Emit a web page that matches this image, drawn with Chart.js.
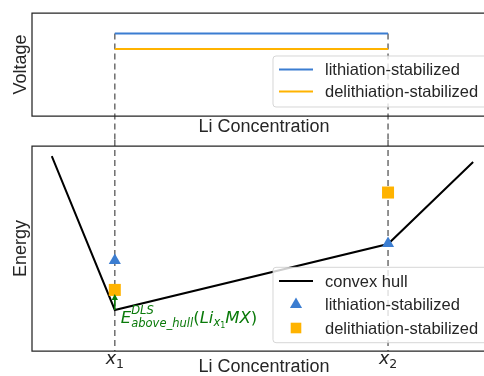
<!DOCTYPE html>
<html>
<head>
<meta charset="utf-8">
<script src="https://cdn.jsdelivr.net/npm/chart.js@4"></script>
<style>
  html, body { margin: 0; padding: 0; background: #fff; width: 484px; height: 376px; overflow: hidden; }
  .panel { position: absolute; left: 0; width: 500px; }
  #top { top: 0; height: 140px; }
  #bottom { top: 140px; height: 236px; }
</style>
</head>
<body>
<div class="panel" id="top"><canvas id="voltageChart"></canvas></div>
<div class="panel" id="bottom"><canvas id="energyChart"></canvas></div>
<script>
// Li concentration of the two compositions (x1, x2), arbitrary units 0..1
const xMarks = [0.180, 0.774];
const xTickLabels = ['x_1', 'x_2'];

// top panel: voltage plateaus between x1 and x2
const voltX = [0.180, 0.774];
const voltLith = [0.80, 0.80];
const voltDelith = [0.65, 0.65];

// bottom panel: energies
const hullX = [0.043, 0.180, 0.774, 0.959];
const hullY = [0.951, 0.200, 0.522, 0.922];
const lithX = [0.180, 0.774];
const lithY = [0.442, 0.525];
const delithX = [0.180, 0.774];
const delithY = [0.298, 0.773];

// E_above_hull arrow at x1 (from hull up to the delithiated point)
const arrowX = 0.180;
const arrowFrom = 0.200;
const arrowTo = 0.278;

const BLUE = '#3b7dd1';
const ORANGE = '#ffb300';
const GREEN = '#0a7a0a';
const INK = '#262626';
const LABEL_FONT = '18px "Liberation Sans", Arial, sans-serif';
const LEGEND_FONT = '16.5px "Liberation Sans", Arial, sans-serif';

const pts = (xs, ys) => xs.map((x, i) => ({x: x, y: ys[i]}));

function spines(chart) {
  const {ctx, chartArea: a} = chart;
  ctx.save();
  ctx.strokeStyle = INK;
  ctx.lineWidth = 1.25;
  ctx.beginPath();
  ctx.moveTo(a.right + 2, a.top); ctx.lineTo(a.left, a.top);
  ctx.lineTo(a.left, a.bottom); ctx.lineTo(a.right + 2, a.bottom);
  ctx.stroke();
  ctx.restore();
}

function guides(chart, y0, y1) {
  const {ctx, scales: {x}} = chart;
  ctx.save();
  ctx.strokeStyle = '#6e6e6e';
  ctx.lineWidth = 1.5;
  ctx.setLineDash([6, 4]);
  xMarks.forEach(v => {
    const px = x.getPixelForValue(v);
    ctx.beginPath(); ctx.moveTo(px, y0); ctx.lineTo(px, y1); ctx.stroke();
  });
  ctx.restore();
}

function axisTitles(chart, yTitle, xBaseline) {
  const {ctx, chartArea: a} = chart;
  ctx.save();
  ctx.fillStyle = INK;
  ctx.font = LABEL_FONT;
  ctx.textAlign = 'center';
  ctx.textBaseline = 'alphabetic';
  ctx.fillText('Li Concentration', (a.left + a.right) / 2 + 2, xBaseline);
  ctx.translate(25.5, (a.top + a.bottom) / 2);
  ctx.rotate(-Math.PI / 2);
  ctx.fillText(yTitle, 0, 0);
  ctx.restore();
}

function legendBox(chart, bx, by, bh, rows) {
  const {ctx} = chart;
  const bw = 260, r = 3;
  ctx.save();
  ctx.beginPath();
  ctx.moveTo(bx + r, by);
  ctx.lineTo(bx + bw, by);
  ctx.lineTo(bx + bw, by + bh);
  ctx.lineTo(bx + r, by + bh);
  ctx.arcTo(bx, by + bh, bx, by + bh - r, r);
  ctx.lineTo(bx, by + r);
  ctx.arcTo(bx, by, bx + r, by, r);
  ctx.closePath();
  ctx.fillStyle = 'rgba(255,255,255,0.8)';
  ctx.fill();
  ctx.strokeStyle = 'rgba(204,204,204,0.8)';
  ctx.lineWidth = 1;
  ctx.stroke();
  rows.forEach(row => {
    const ds = row.ds;
    if (ds.showLine === false) {
      ctx.fillStyle = ds.backgroundColor;
      ctx.strokeStyle = ds.backgroundColor;
      Chart.helpers.drawPoint(ctx, {pointStyle: ds.pointStyle, radius: row.r, borderWidth: 0, rotation: 0}, bx + 23, row.y);
    } else {
      ctx.strokeStyle = ds.borderColor;
      ctx.lineWidth = ds.borderWidth;
      ctx.beginPath(); ctx.moveTo(bx + 6, row.y); ctx.lineTo(bx + 40, row.y); ctx.stroke();
    }
    ctx.fillStyle = INK;
    ctx.font = LEGEND_FONT;
    ctx.textAlign = 'left';
    ctx.textBaseline = 'middle';
    ctx.fillText(ds.label, bx + 52, row.y + 1);
  });
  ctx.restore();
}

function mathRuns(ctx, x, y, runs) {
  runs.forEach(run => {
    ctx.font = run.font;
    ctx.fillText(run.t, x, y + (run.dy || 0));
    if (!run.hold) x += ctx.measureText(run.t).width;
  });
}

const DV = '"DejaVu Sans", sans-serif';

const commonOptions = (padding) => ({
  responsive: true,
  maintainAspectRatio: false,
  animation: false,
  devicePixelRatio: 1,
  layout: {padding: padding, autoPadding: false},
  plugins: {legend: {display: false}, tooltip: {enabled: false}},
  scales: {
    x: {type: 'linear', min: 0, max: 1, display: false},
    y: {type: 'linear', min: 0, max: 1, display: false}
  }
});

// ---------- top: voltage ----------
new Chart(document.getElementById('voltageChart').getContext('2d'), {
  type: 'line',
  data: {
    datasets: [
      {label: 'lithiation-stabilized', data: pts(voltX, voltLith), borderColor: BLUE, borderWidth: 2, pointRadius: 0},
      {label: 'delithiation-stabilized', data: pts(voltX, voltDelith), borderColor: ORANGE, borderWidth: 2, pointRadius: 0}
    ]
  },
  options: commonOptions({left: 32, top: 13, right: 8, bottom: 24}),
  plugins: [{
    id: 'topDecor',
    beforeDatasetsDraw(chart) {
      const y = chart.scales.y.getPixelForValue(Math.max(...voltLith));
      guides(chart, y, chart.height);
    },
    afterDraw(chart) {
      spines(chart);
      axisTitles(chart, 'Voltage', 132);
      const ds = chart.data.datasets;
      legendBox(chart, 273, 56, 51, [{ds: ds[0], y: 69.5}, {ds: ds[1], y: 91.5}]);
    }
  }]
});

// ---------- bottom: energy ----------
new Chart(document.getElementById('energyChart').getContext('2d'), {
  type: 'line',
  data: {
    datasets: [
      {label: 'convex hull', data: pts(hullX, hullY), borderColor: '#000', borderWidth: 2, pointRadius: 0, order: 2},
      {label: 'lithiation-stabilized', data: pts(lithX, lithY), showLine: false, pointStyle: 'triangle',
       pointRadius: 7, backgroundColor: BLUE, borderColor: BLUE, pointBorderWidth: 0, order: 1},
      {label: 'delithiation-stabilized', data: pts(delithX, delithY), showLine: false, pointStyle: 'rect',
       pointRadius: 8.5, backgroundColor: ORANGE, borderColor: ORANGE, pointBorderWidth: 0, order: 0}
    ]
  },
  options: commonOptions({left: 32, top: 6, right: 8, bottom: 25}),
  plugins: [{
    id: 'bottomDecor',
    beforeDatasetsDraw(chart) {
      guides(chart, 0, chart.chartArea.bottom);
    },
    afterDatasetsDraw(chart) {
      const {ctx, scales: {x, y}} = chart;
      const px = x.getPixelForValue(arrowX);
      const y0 = y.getPixelForValue(arrowFrom);
      const y1 = y.getPixelForValue(arrowTo);
      ctx.save();
      ctx.strokeStyle = GREEN;
      ctx.fillStyle = GREEN;
      ctx.lineWidth = 1.6;
      ctx.beginPath(); ctx.moveTo(px, y0); ctx.lineTo(px, y1 + 3); ctx.stroke();
      ctx.beginPath(); ctx.moveTo(px, y1); ctx.lineTo(px - 3.2, y1 + 6); ctx.lineTo(px + 3.2, y1 + 6); ctx.closePath(); ctx.fill();
      ctx.textAlign = 'left';
      ctx.textBaseline = 'alphabetic';
      const it = s => 'italic ' + s + 'px ' + DV;
      const up = s => s + 'px ' + DV;
      mathRuns(ctx, px + 6, y0 + 13, [
        {t: 'E', font: it(16.5)},
        {t: 'DLS', font: it(11.5), dy: -9, hold: true},
        {t: 'above_hull', font: it(11.5), dy: 4},
        {t: '(', font: up(16.5)},
        {t: 'Li', font: it(16.5)},
        {t: 'x', font: it(11.5), dy: 3},
        {t: '1', font: up(8), dy: 5},
        {t: 'MX', font: it(16.5)},
        {t: ')', font: up(16.5)}
      ]);
      ctx.restore();
    },
    afterDraw(chart) {
      const {ctx, scales: {x}} = chart;
      spines(chart);
      axisTitles(chart, 'Energy', 232);
      // tick labels x1, x2
      ctx.save();
      ctx.fillStyle = INK;
      ctx.textAlign = 'left';
      ctx.textBaseline = 'alphabetic';
      xMarks.forEach((v, i) => {
        const [base, sub] = xTickLabels[i].split('_');
        const px = x.getPixelForValue(v);
        ctx.font = 'italic 17.5px ' + DV;
        const wb = ctx.measureText(base).width;
        ctx.font = '12.5px ' + DV;
        const ws = ctx.measureText(sub).width;
        let sx = px - (wb + ws) / 2;
        ctx.font = 'italic 17.5px ' + DV;
        ctx.fillText(base, sx, 224);
        ctx.font = '12.5px ' + DV;
        ctx.fillText(sub, sx + wb, 228);
      });
      ctx.restore();
      const ds = chart.data.datasets;
      legendBox(chart, 273, 127.3, 75.4, [
        {ds: ds[0], y: 141}, {ds: ds[1], y: 164.5, r: 7}, {ds: ds[2], y: 188, r: 7.5}
      ]);
    }
  }]
});
</script>
</body>
</html>
